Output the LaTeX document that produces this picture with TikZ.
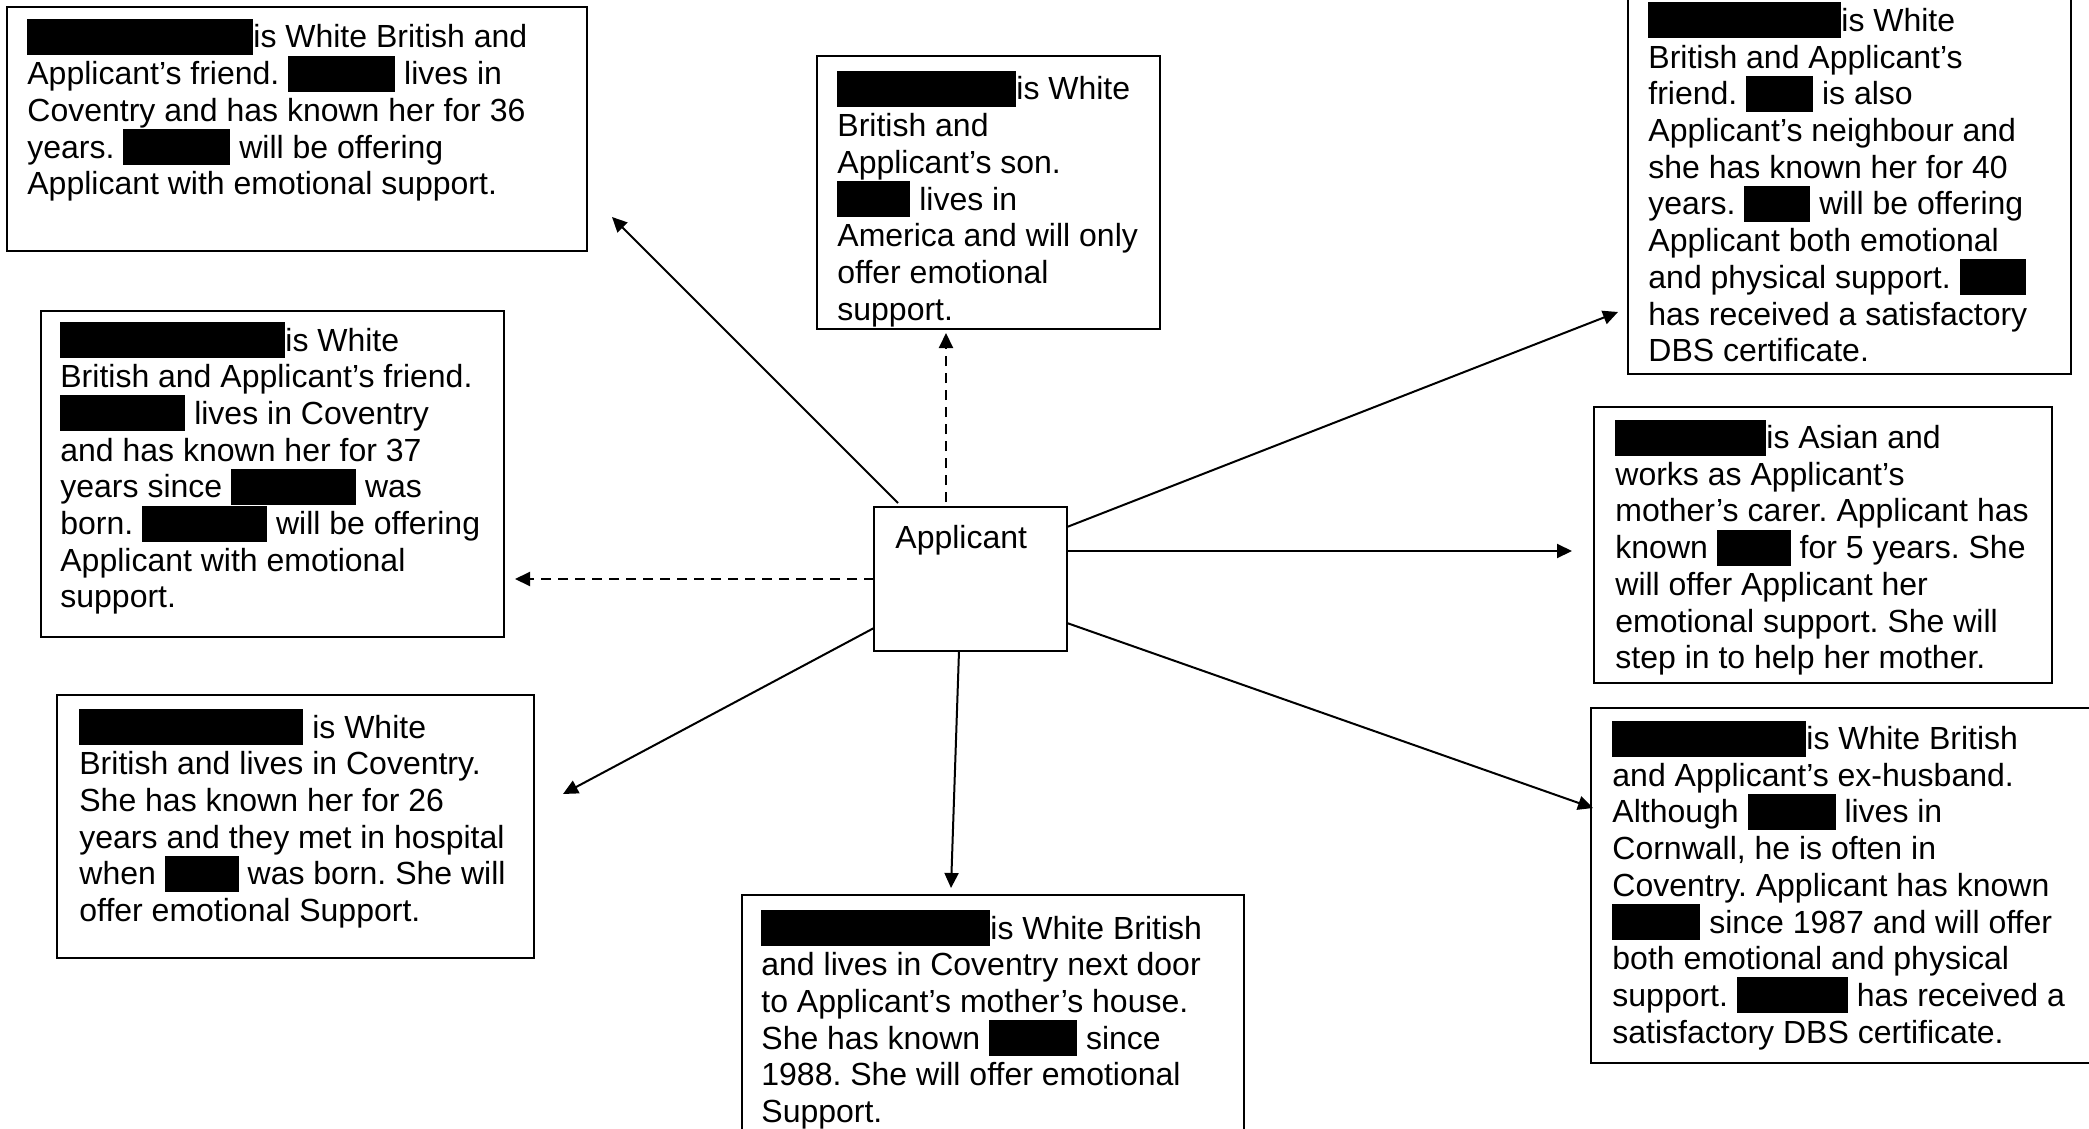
\documentclass[tikz,border=0pt]{standalone}
\usepackage{fontspec}
\setmainfont{Liberation Sans}
\usetikzlibrary{arrows.meta,calc}
\frenchspacing
\newcommand\rd[1]{\smash{\rule[-3.5pt]{\dimexpr #1pt/2\relax}{18pt}}}
\newcommand\lns[1]{\begin{tabular}[t]{@{}l@{}}#1\end{tabular}}
\tikzset{
  frame/.style={draw, line width=1pt, inner sep=0pt, outer sep=0pt, anchor=north west},
  txt/.style={font=\fontsize{16pt}{18.35pt}\selectfont\frenchspacing, inner sep=0pt, anchor=base west},
  arr/.style={-{Triangle[length=7.5pt,width=7pt]}, line width=1pt},
  dsh/.style={arr, dash pattern=on 5pt off 3.5pt}
}
\begin{document}
\begin{tikzpicture}[x=0.5pt,y=-0.5pt]
\useasboundingbox (0,0) rectangle (2089,1129);
\fill[white] (0,0) rectangle (2089,1129);
\clip (0,0) rectangle (2089,1129);

% frames
\node[frame, minimum width=290pt, minimum height=122pt] (b1) at (7,7) {};
\node[frame, minimum width=171.5pt, minimum height=136.5pt] (b2) at (817,56) {};
\node[frame, minimum width=221.5pt, minimum height=197pt] (b3) at (1628,-20) {};
\node[frame, minimum width=231.5pt, minimum height=163pt] (b4) at (41,311) {};
\node[frame, minimum width=229pt, minimum height=138pt] (b5) at (1594,407) {};
\node[frame, minimum width=238.5pt, minimum height=131.5pt] (b6) at (57,695) {};
\node[frame, minimum width=251pt, minimum height=127.5pt] (b7) at (742,895) {};
\node[frame, minimum width=259.5pt, minimum height=177.5pt] (b8) at (1591,708) {};
\node[frame, minimum width=96.5pt, minimum height=72pt] (app) at (874,507) {};

% texts
\node[txt] (appt) at (895,548) {Applicant};
\node[txt] (b1t) at (27,48) {\lns{\rd{226}is White British and\\
Applicant’s friend. \rd{107} lives in\\
Coventry and has known her for 36\\
years. \rd{107} will be offering\\
Applicant with emotional support.}};
\node[txt] (b2t) at (837,100) {\lns{\rd{179}is White\\
British and\\
Applicant’s son.\\
\rd{73} lives in\\
America and will only\\
offer emotional\\
support.}};
\node[txt] (b3t) at (1648,31.5) {\lns{\rd{193}is White\\
British and Applicant’s\\
friend. \rd{67} is also\\
Applicant’s neighbour and\\
she has known her for 40\\
years. \rd{66} will be offering\\
Applicant both emotional\\
and physical support. \rd{66}\\
has received a satisfactory\\
DBS certificate.}};
\node[txt] (b4t) at (60,351) {\lns{\rd{225}is White\\
British and Applicant’s friend.\\
\rd{125} lives in Coventry\\
and has known her for 37\\
years since \rd{125} was\\
born. \rd{125} will be offering\\
Applicant with emotional\\
support.}};
\node[txt] (b5t) at (1615,448.5) {\lns{\rd{151}is Asian and\\
works as Applicant’s\\
mother’s carer. Applicant has\\
known \rd{74} for 5 years. She\\
will offer Applicant her\\
emotional support. She will\\
step in to help her mother.}};
\node[txt] (b6t) at (79,738) {\lns{\rd{224} is White\\
British and lives in Coventry.\\
She has known her for 26\\
years and they met in hospital\\
when \rd{74} was born. She will\\
offer emotional Support.}};
\node[txt] (b7t) at (761,939) {\lns{\rd{229}is White British\\
and lives in Coventry next door\\
to Applicant’s mother’s house.\\
She has known \rd{88} since\\
1988. She will offer emotional\\
Support.}};
\node[txt] (b8t) at (1612,749.5) {\lns{\rd{194}is White British\\
and Applicant’s ex-husband.\\
Although \rd{88} lives in\\
Cornwall, he is often in\\
Coventry. Applicant has known\\
\rd{88} since 1987 and will offer\\
both emotional and physical\\
support. \rd{111} has received a\\
satisfactory DBS certificate.}};

% arrow tips
\coordinate (t1) at (612,217);
\coordinate (t2) at (946,333);
\coordinate (t3) at (1618,312);
\coordinate (t4) at (1572,551);
\coordinate (t5) at (1593,808);
\coordinate (t6) at (951,888);
\coordinate (t7) at (515,579);
\coordinate (t8) at (563,794);

% connectors
\draw[arr] ($(app.north west)+(24,-4)$) -- (t1);
\draw[dsh] ($(app.north west)+(72,-5)$) -- (t2);
\draw[arr] ($(app.north east)+(0,20)$) -- (t3);
\draw[arr] ($(app.north east)+(0,44)$) -- (t4);
\draw[arr] ($(app.north east)+(0,116)$) -- (t5);
\draw[arr] ($(app.south west)+(85,0)$) -- (t6);
\draw[dsh] (app.west) -- (t7);
\draw[arr] ($(app.north west)+(0,121)$) -- (t8);
\end{tikzpicture}
\end{document}
